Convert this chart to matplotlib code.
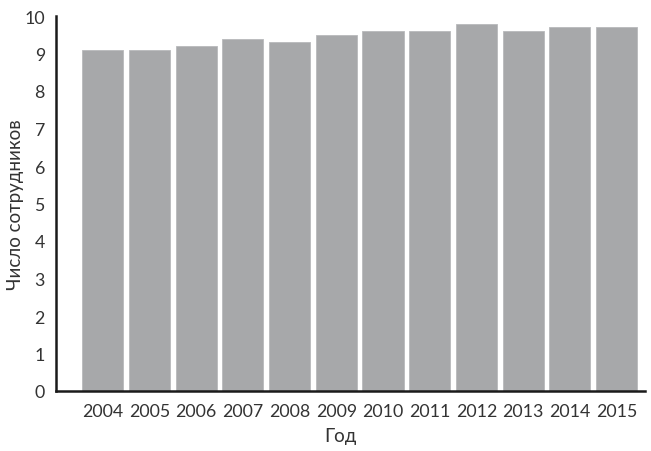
import matplotlib
matplotlib.use("Agg")
import matplotlib.pyplot as plt

years = ["2004", "2005", "2006", "2007", "2008", "2009", "2010", "2011", "2012", "2013", "2014", "2015"]
values = [9.1, 9.1, 9.2, 9.4, 9.3, 9.5, 9.6, 9.6, 9.8, 9.6, 9.7, 9.7]
yticks = list(range(0, 11))

plt.rcParams['font.family'] = ['Lato', 'DejaVu Sans']
plt.rcParams['font.weight'] = 'normal'

fig = plt.figure(figsize=(6.51, 4.52), dpi=100)
ax = fig.add_axes([56/651, 1-392/452, (645-56)/651, (392-17)/452])

x = list(range(len(years)))
ax.bar(x, values, width=0.88, color="#a7a8aa", edgecolor="#b8b9bb", linewidth=0.6)

ax.set_xlim(-1.0, len(years) - 1 + 0.61)
ax.set_ylim(0, 10)
ax.set_xticks(x)
ax.set_xticklabels(years)
ax.set_yticks(yticks)
ax.tick_params(axis='both', length=0, labelsize=12.8, colors="#333333")
ax.tick_params(axis='x', pad=9)
ax.tick_params(axis='y', pad=8)

for s in ['top', 'right']:
    ax.spines[s].set_visible(False)
for s in ['left', 'bottom']:
    ax.spines[s].set_linewidth(1.8)
    ax.spines[s].set_color("#1a1a1a")

ax.set_xlabel("Год", fontsize=13.5, color="#333333")
ax.xaxis.set_label_coords((340-56)/(645-56), -(437-392)/375, transform=ax.transAxes)
ax.set_ylabel("Число сотрудников", fontsize=13.5, color="#333333")
ax.yaxis.set_label_coords(-(56-16)/589, 0.5, transform=ax.transAxes)
ax.xaxis.label.set_va('center')
ax.yaxis.label.set_va('center')

fig.savefig("out.png", dpi=100)
